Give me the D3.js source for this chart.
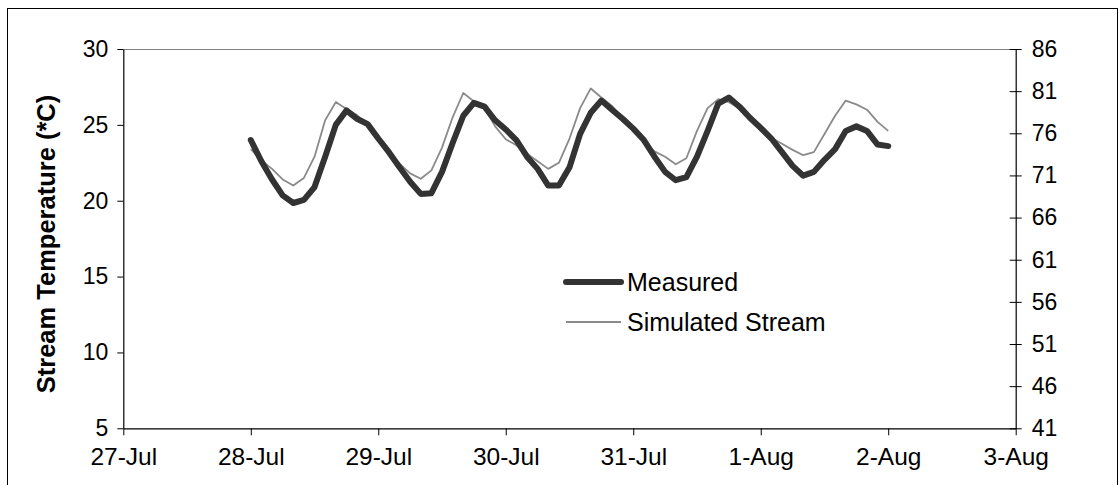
<!DOCTYPE html>
<html>
<head>
<meta charset="utf-8">
<script src="https://cdn.jsdelivr.net/npm/d3@7"></script>
<style>
  body { margin: 0; background: #fff; }
  svg { display: block; font-family: "Liberation Sans", Arial, sans-serif; }
</style>
</head>
<body>
<svg id="chart" width="1120" height="485"></svg>
<script>
// readings every 2 hours, starting 28-Jul 00:00
const startTime = Date.UTC(2004, 6, 28, 0);
const stepHours = 2;

const measured = [
  24.0, 22.6, 21.4, 20.35, 19.85, 20.05, 20.9, 22.9, 25.0, 25.95, 25.4, 25.05,
  24.1, 23.2, 22.2, 21.25, 20.45, 20.5, 21.9, 23.8, 25.6, 26.45, 26.2, 25.3,
  24.7, 24.0, 22.9, 22.1, 21.0, 21.0, 22.2, 24.4, 25.8, 26.6, 26.0, 25.4,
  24.75, 24.0, 22.9, 21.9, 21.35, 21.55, 22.9, 24.6, 26.4, 26.8, 26.2, 25.45,
  24.8, 24.1, 23.2, 22.3, 21.65, 21.9, 22.7, 23.4, 24.6, 24.9, 24.6, 23.7, 23.6
];

const simulated = [
  23.4, 22.65, 22.1, 21.4, 21.0, 21.5, 22.9, 25.3, 26.5, 26.05, 25.65, 24.9,
  23.95, 23.2, 22.45, 21.8, 21.45, 22.0, 23.5, 25.5, 27.1, 26.55, 26.1, 24.9,
  24.05, 23.65, 23.1, 22.6, 22.1, 22.5, 24.1, 26.1, 27.4, 26.8, 26.25, 25.4,
  24.7, 23.8, 23.25, 22.9, 22.4, 22.8, 24.6, 26.1, 26.7, 26.5, 26.1, 25.3,
  24.6, 24.15, 23.75, 23.35, 23.0, 23.2, 24.4, 25.6, 26.6, 26.35, 26.0, 25.2, 24.6
];

// 27-Jul through 3-Aug
const dateTicks = [27, 28, 29, 30, 31, 32, 33, 34].map(d => new Date(Date.UTC(2004, 6, d)));
const leftTicks = [5, 10, 15, 20, 25, 30];
const rightTicks = [41, 46, 51, 56, 61, 66, 71, 76, 81, 86];
const seriesNames = ['Measured', 'Simulated Stream'];

const svg = d3.select('#chart');
const margin = { top: 49, right: 104.3, bottom: 56.7, left: 123.3 };
const W = 1120, H = 485;
const plotW = W - margin.left - margin.right;
const plotH = H - margin.top - margin.bottom;

// outer chart border
svg.append('rect')
  .attr('x', 7.5).attr('y', 8.5)
  .attr('width', 1110).attr('height', 490)
  .attr('fill', '#fff').attr('stroke', '#000').attr('stroke-width', 1);

const g = svg.append('g').attr('transform', `translate(${margin.left},${margin.top})`);

const x = d3.scaleUtc().domain([dateTicks[0], dateTicks[dateTicks.length - 1]]).range([0, plotW]);
const y = d3.scaleLinear().domain([5, 30]).range([plotH, 0]);
const y2 = d3.scaleLinear().domain([41, 86]).range([plotH, 0]);

// plot area top border
g.append('line')
  .attr('x1', 0).attr('x2', plotW).attr('y1', 0.5).attr('y2', 0.5)
  .attr('stroke', '#808080');

const xAxis = g.append('g')
  .attr('transform', `translate(0,${plotH})`)
  .call(d3.axisBottom(x).tickValues(dateTicks).tickFormat(d3.utcFormat('%-d-%b')).tickSize(7).tickSizeOuter(0).tickPadding(12));

const yAxis = g.append('g')
  .call(d3.axisLeft(y).tickValues(leftTicks).tickSize(6).tickSizeOuter(0).tickPadding(9));

const yAxis2 = g.append('g')
  .attr('transform', `translate(${plotW},0)`)
  .call(d3.axisRight(y2).tickValues(rightTicks).tickSize(6).tickSizeOuter(0).tickPadding(10));
yAxis2.selectAll('.tick line').attr('x1', -6);

[[xAxis, 24.5], [yAxis, 23], [yAxis2, 23]].forEach(([a, fs]) => {
  a.selectAll('.domain').attr('stroke', '#000').attr('stroke-width', 1.2);
  a.selectAll('.tick line').attr('stroke', '#000');
  a.selectAll('text').attr('font-size', fs).attr('fill', '#000')
    .attr('font-family', '"Liberation Sans", Arial, sans-serif');
});

// y label
svg.append('text')
  .attr('transform', 'translate(55,244) rotate(-90)')
  .attr('text-anchor', 'middle')
  .attr('font-size', 25.5)
  .attr('font-weight', 'bold')
  .text('Stream Temperature (*C)');

const timeOf = i => new Date(startTime + i * stepHours * 3600 * 1000);
const line = d3.line()
  .x((d, i) => x(timeOf(i)))
  .y(d => y(d))
  .curve(d3.curveLinear);

g.append('path')
  .datum(simulated)
  .attr('fill', 'none')
  .attr('stroke', '#8a8a8a')
  .attr('stroke-width', 1.8)
  .attr('stroke-linejoin', 'round')
  .attr('d', line);

g.append('path')
  .datum(measured)
  .attr('fill', 'none')
  .attr('stroke', '#333')
  .attr('stroke-width', 6)
  .attr('stroke-linejoin', 'round')
  .attr('stroke-linecap', 'round')
  .attr('d', line);

// legend
const legend = svg.append('g').attr('transform', 'translate(563,282)');
const legendStyles = [
  { stroke: '#333', width: 6 },
  { stroke: '#8a8a8a', width: 1.8 }
];
seriesNames.forEach((name, i) => {
  const row = legend.append('g').attr('transform', `translate(0,${i * 40})`);
  row.append('line')
    .attr('x1', 3).attr('x2', 58).attr('y1', 0).attr('y2', 0)
    .attr('stroke', legendStyles[i].stroke)
    .attr('stroke-width', legendStyles[i].width)
    .attr('stroke-linecap', i === 0 ? 'round' : 'butt');
  row.append('text')
    .attr('x', 64).attr('y', 9)
    .attr('font-size', 25)
    .text(name);
});
</script>
</body>
</html>
